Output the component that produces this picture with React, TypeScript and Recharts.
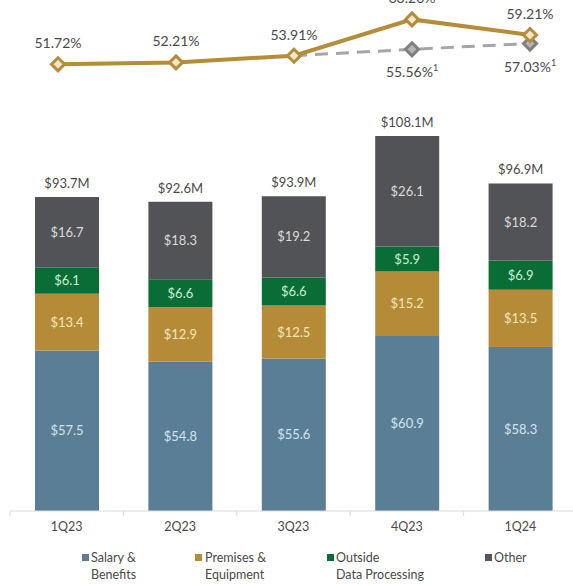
import React from 'react';
import { BarChart, Bar, XAxis, YAxis, LabelList, Legend, LineChart, Line } from 'recharts';

const quarters = ['1Q23', '2Q23', '3Q23', '4Q23', '1Q24'];
const salary = [57.5, 54.8, 55.6, 60.9, 58.3];
const premises = [13.4, 12.9, 12.5, 15.2, 13.5];
const outside = [6.1, 6.6, 6.6, 5.9, 6.9];
const other = [16.7, 18.3, 19.2, 26.1, 18.2];
const totals = [93.7, 92.6, 93.9, 108.1, 96.9];
const efficiency = [51.72, 52.21, 53.91, 63.2, 59.21];
const adjusted: (number | null)[] = [null, null, 53.91, 55.56, 57.03];

const legendItems = [
  { lines: ['Salary &', 'Benefits'], color: '#5a7e95', left: 82 },
  { lines: ['Premises &', 'Equipment'], color: '#b58b38', left: 195 },
  { lines: ['Outside', 'Data Processing'], color: '#0b6d36', left: 327 },
  { lines: ['Other'], color: '#555659', left: 485 },
];

const FONT = 'Lato, "Open Sans", sans-serif';
const GOLD = '#b58c37';
const TXT = '#4a4a4a';
const CHART_W = 580;
const M_LEFT = 10;
const M_RIGHT = 3;
const BAND = (CHART_W - M_LEFT - M_RIGHT) / quarters.length;

const barData = quarters.map((q, i) => ({
  q,
  salary: salary[i],
  premises: premises[i],
  outside: outside[i],
  other: other[i],
  total: totals[i],
}));

const lineData = quarters.map((q, i) => ({
  q,
  eff: efficiency[i],
  adj: adjusted[i],
}));

const XTick = (props: any) => {
  const { x, y, payload } = props;
  const axisY = y - 8;
  return (
    <g>
      <line x1={x - BAND / 2} x2={x - BAND / 2} y1={axisY} y2={axisY + 5} stroke="#d9d9d9" strokeWidth={1} />
      <text x={x} y={y + 12} textAnchor="middle" fill={TXT} fontSize={12.5} fontFamily={FONT}>
        {payload.value}
      </text>
    </g>
  );
};

const TotalLabel = (props: any) => {
  const { x, y, width, value } = props;
  return (
    <text x={x + width / 2} y={y - 9} textAnchor="middle" fill={TXT} fontSize={13} fontFamily={FONT}>
      {`$${value}M`}
    </text>
  );
};

const GoldDot = (props: any) => {
  const { cx, cy } = props;
  if (cx == null || cy == null) return null;
  const r = 6.5;
  return (
    <polygon
      points={`${cx},${cy - r} ${cx + r},${cy} ${cx},${cy + r} ${cx - r},${cy}`}
      fill="#f1e6cc"
      stroke={GOLD}
      strokeWidth={3}
    />
  );
};

const GrayDot = (props: any) => {
  const { cx, cy, index } = props;
  if (cx == null || cy == null || index < 3) return null;
  const r = 6.5;
  return (
    <polygon
      points={`${cx},${cy - r} ${cx + r},${cy} ${cx},${cy + r} ${cx - r},${cy}`}
      fill="#b5b5b5"
      stroke="#7f7f7f"
      strokeWidth={3}
    />
  );
};

const GoldLabel = (props: any) => {
  const { x, y, value } = props;
  return (
    <text x={x} y={y - 16} textAnchor="middle" fill={TXT} fontSize={14} fontFamily={FONT}>
      {`${Number(value).toFixed(2)}%`}
    </text>
  );
};

const GrayLabel = (props: any) => {
  const { x, y, value, index } = props;
  if (value == null || index < 3) return null;
  return (
    <text x={x} y={y + 28} textAnchor="middle" fill={TXT} fontSize={14} fontFamily={FONT}>
      {`${Number(value).toFixed(2)}%`}
      <tspan fontSize={9} dy={-6}>1</tspan>
    </text>
  );
};

const renderLegend = () => (
  <div style={{ position: 'relative', width: 573, height: 41, fontFamily: FONT, fontSize: 12.5, color: TXT }}>
    {legendItems.map((it) => (
      <div key={it.lines[0]} style={{ position: 'absolute', left: it.left, top: 4, lineHeight: '17px' }}>
        <span
          style={{
            position: 'absolute',
            left: 0,
            top: 5,
            width: 7,
            height: 7,
            background: it.color,
          }}
        />
        <div style={{ marginLeft: it.left === 195 ? 10 : 9, whiteSpace: 'nowrap' }}>
          {it.lines.map((l) => (
            <div key={l}>{l}</div>
          ))}
        </div>
      </div>
    ))}
  </div>
);

export default function App() {
  return (
    <div style={{ position: 'absolute', left: 0, top: 0, width: 573, height: 586, overflow: 'hidden', background: '#fff' }}>
      <div style={{ position: 'absolute', left: 0, top: 0 }}>
        <BarChart
          width={CHART_W}
          height={586}
          data={barData}
          margin={{ top: 100, right: M_RIGHT, left: M_LEFT, bottom: 0 }}
          barSize={64}
        >
          <XAxis
            dataKey="q"
            axisLine={{ stroke: '#d9d9d9' }}
            tickLine={false}
            tickSize={6}
            tickMargin={2}
            height={34}
            interval={0}
            tick={<XTick />}
          />
          <YAxis hide domain={[19.6, 116.6]} allowDataOverflow />
          <Legend
            verticalAlign="bottom"
            content={renderLegend}
            wrapperStyle={{ left: 0, width: 573, height: 41 }}
          />
          <Bar dataKey="salary" stackId="a" fill="#5a7e95" isAnimationActive={false}>
            <LabelList dataKey="salary" position="center" fill="#d3e3ee" fontSize={13} fontFamily={FONT} formatter={(v: any) => `$${v}`} />
          </Bar>
          <Bar dataKey="premises" stackId="a" fill="#b58b38" isAnimationActive={false}>
            <LabelList dataKey="premises" position="center" fill="#f6e6b8" fontSize={13} fontFamily={FONT} formatter={(v: any) => `$${v}`} />
          </Bar>
          <Bar dataKey="outside" stackId="a" fill="#0b6d36" isAnimationActive={false}>
            <LabelList dataKey="outside" position="center" fill="#c9f0d4" fontSize={13} fontFamily={FONT} formatter={(v: any) => `$${v}`} />
          </Bar>
          <Bar dataKey="other" stackId="a" fill="#525357" isAnimationActive={false}>
            <LabelList dataKey="other" position="center" fill="#dadada" fontSize={13} fontFamily={FONT} formatter={(v: any) => `$${v}`} />
            <LabelList dataKey="total" content={<TotalLabel />} />
          </Bar>
        </BarChart>
      </div>
      <div style={{ position: 'absolute', left: 0, top: 0 }}>
        <LineChart width={573} height={100} data={lineData} margin={{ top: 0, right: 0, left: 0, bottom: 0 }}>
          <XAxis dataKey="q" hide padding={{ left: 58, right: 43 }} />
          <YAxis hide domain={[42.59, 68.16]} allowDataOverflow />
          <Line
            dataKey="adj"
            stroke="#a6a6a6"
            strokeWidth={3}
            strokeDasharray="13 8"
            dot={<GrayDot />}
            activeDot={false}
            connectNulls={false}
            isAnimationActive={false}
          >
            <LabelList dataKey="adj" content={<GrayLabel />} />
          </Line>
          <Line
            dataKey="eff"
            stroke={GOLD}
            strokeWidth={4}
            dot={<GoldDot />}
            activeDot={false}
            isAnimationActive={false}
          >
            <LabelList dataKey="eff" content={<GoldLabel />} />
          </Line>
        </LineChart>
      </div>
    </div>
  );
}
